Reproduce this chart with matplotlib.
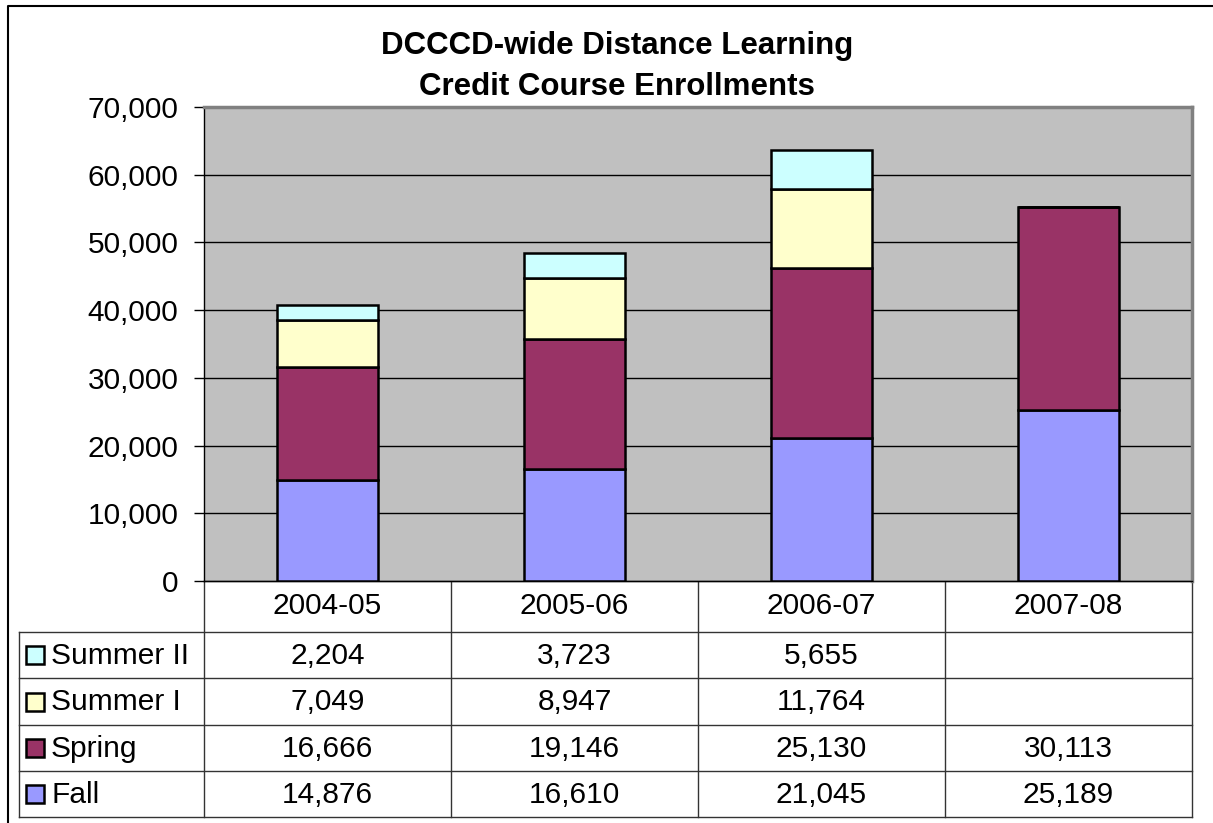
import matplotlib.pyplot as plt
from matplotlib.transforms import blended_transform_factory
from matplotlib.patches import Rectangle

plt.rcParams['font.family'] = ['Liberation Sans', 'DejaVu Sans']

# Дані
years = ['2004-05', '2005-06', '2006-07', '2007-08']
series = ['Fall', 'Spring', 'Summer I', 'Summer II']
fall = [14876, 16610, 21045, 25189]
spring = [16666, 19146, 25130, 30113]
summer1 = [7049, 8947, 11764, None]
summer2 = [2204, 3723, 5655, None]
colors = ['#9999FF', '#993366', '#FFFFCC', '#CCFFFF']

W, H = 1213, 823
fig = plt.figure(figsize=(W / 100, H / 100), dpi=100)

# Площа графіка
L, R, T, B = 204, 1192, 107, 581
ax = fig.add_axes([L / W, 1 - B / H, (R - L) / W, (B - T) / H])
ax.set_facecolor('#C0C0C0')

x = list(range(len(years)))
bottom = [0] * len(years)
for vals, c in zip([fall, spring, summer1, summer2], colors):
    v = [0 if a is None else a for a in vals]
    ax.bar(x, v, width=0.405, bottom=bottom, color=c, edgecolor='black',
           linewidth=1.8, zorder=3)
    bottom = [b + a for b, a in zip(bottom, v)]

ax.set_xlim(-0.5, len(years) - 0.5)
ax.set_ylim(0, 70000)
ax.set_yticks(range(0, 70001, 10000))
ax.set_yticklabels([f'{t:,}' for t in range(0, 70001, 10000)], fontsize=21.5)
ax.tick_params(axis='y', length=7, width=1, direction='out', pad=11.5)
ax.set_xticks([])
ax.grid(axis='y', color='black', linewidth=1, zorder=1)
for s in ['top', 'right']:
    ax.spines[s].set_color('#808080')
    ax.spines[s].set_linewidth(2.5)
ax.spines['left'].set_linewidth(1)
ax.spines['bottom'].set_linewidth(1)

# Накладка у пікселях для таблиці та рамки
ov = fig.add_axes([0, 0, 1, 1], zorder=-1)
ov.set_xlim(0, W)
ov.set_ylim(H, 0)
ov.axis('off')
ov.plot([8, 8, W + 5], [H + 5, 6, 6], color='black', lw=1.5)

ov.text(617, 46, 'DCCCD-wide Distance Learning', ha='center', va='center',
        fontsize=22.5, fontweight='bold')
ov.text(617, 87, 'Credit Course Enrollments', ha='center', va='center',
        fontsize=22.5, fontweight='bold')

# Таблиця даних
rows_y = [581, 632, 678, 725, 771, 817]
tl = 19
lc = '#333333'
for i, yy in enumerate(rows_y):
    x0 = L if i == 0 else tl
    ov.plot([x0, R], [yy, yy], color=lc, lw=1)
ov.plot([tl, tl], [rows_y[1], rows_y[-1]], color=lc, lw=1)
col_edges = [L + k * (R - L) / len(years) for k in range(len(years) + 1)]
for xe in col_edges:
    ov.plot([xe, xe], [rows_y[0], rows_y[-1]], color=lc, lw=1)

tr = blended_transform_factory(ax.transData, ov.transData)
for i, yr in enumerate(years):
    ov.text(i, (rows_y[0] + rows_y[1]) / 2, yr, transform=tr, ha='center',
            va='center', fontsize=21.5)

table_rows = [('Summer II', summer2, colors[3]), ('Summer I', summer1, colors[2]),
              ('Spring', spring, colors[1]), ('Fall', fall, colors[0])]
for r, (name, vals, c) in enumerate(table_rows):
    yc = (rows_y[r + 1] + rows_y[r + 2]) / 2
    ov.add_patch(Rectangle((26, yc - 9), 18, 18, facecolor=c, edgecolor='black', lw=1.8))
    ov.text(51, yc + 1, name, ha='left', va='center', fontsize=21.5)
    for i, v in enumerate(vals):
        if v is not None:
            ov.text(i, yc + 1, f'{v:,}', transform=tr, ha='center', va='center',
                    fontsize=21.5)

fig.savefig('out.png', dpi=100)
